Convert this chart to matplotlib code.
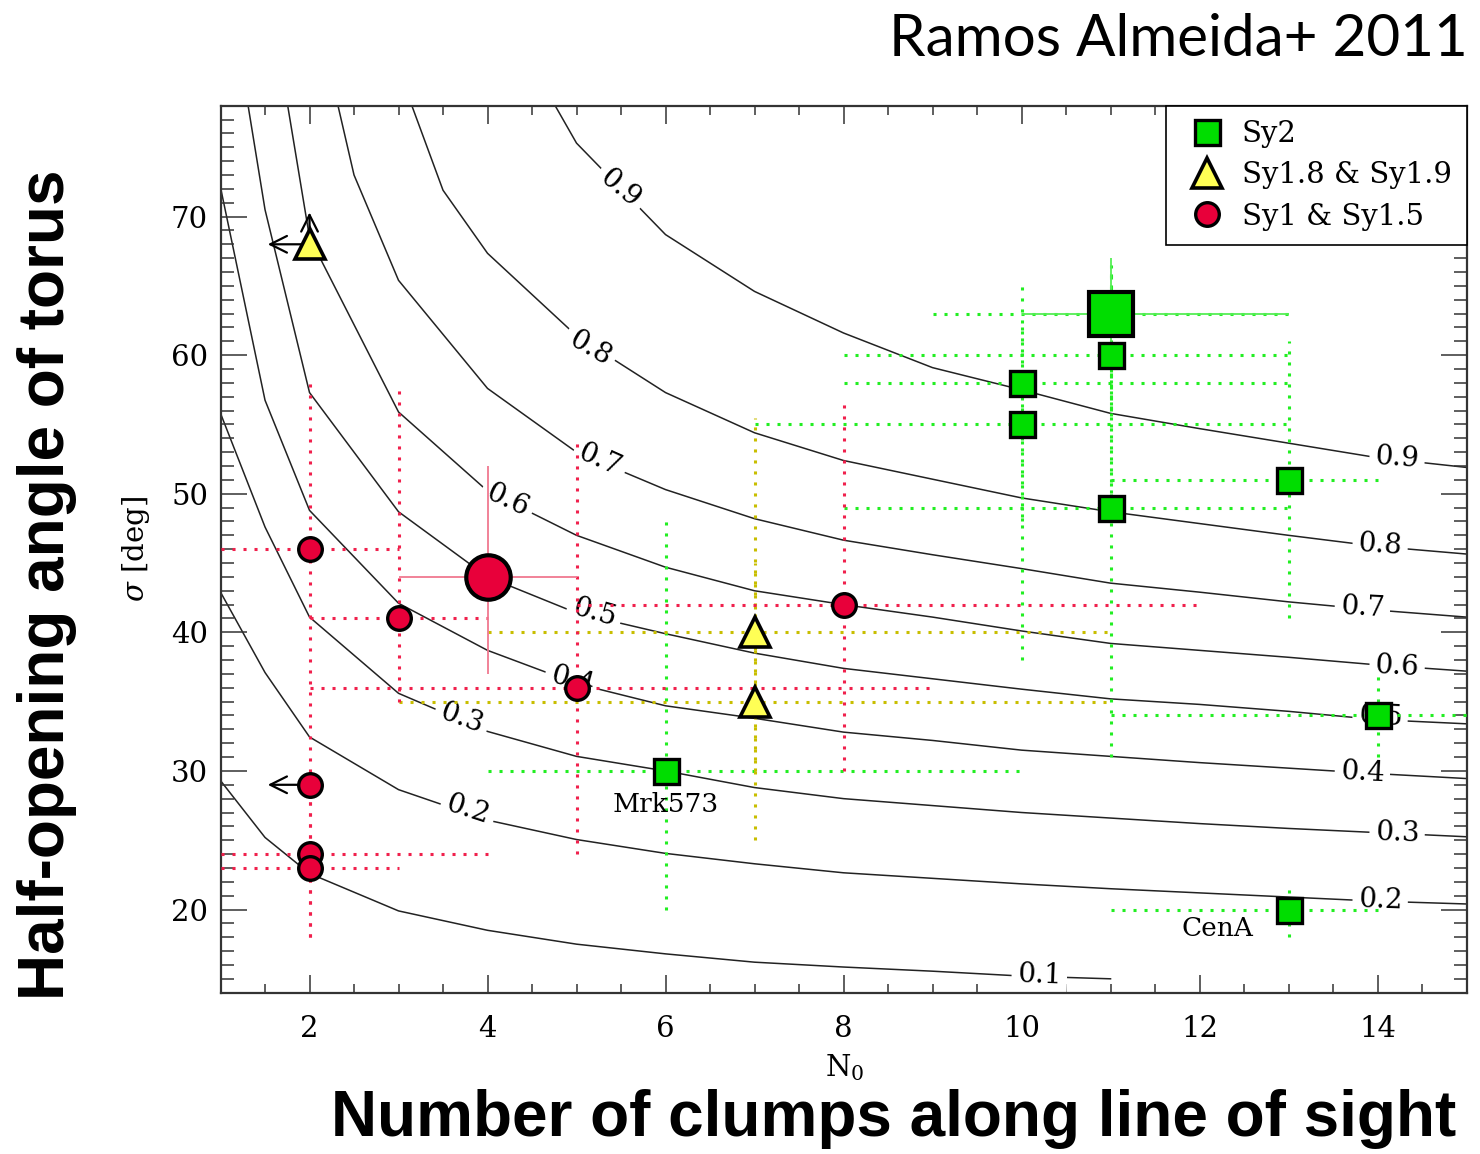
import matplotlib
matplotlib.use("Agg")
import matplotlib.pyplot as plt
from matplotlib.lines import Line2D
from matplotlib.ticker import MultipleLocator

plt.rcParams["font.family"] = ["DejaVu Serif"]
plt.rcParams["mathtext.fontset"] = "dejavuserif"

# covering-factor curves: sigma [deg] read at each N0
c01_n0 = [1, 1.5, 2, 3, 4, 5, 6, 7, 8, 9, 10, 11]
c01_sig = [29.3, 25.2, 22.6, 19.9, 18.5, 17.5, 16.8, 16.2, 15.85, 15.55, 15.2, 15.0]
c02_n0 = [1, 1.5, 2, 3, 4, 5, 6, 7, 8, 9, 10, 11, 12, 13, 14, 15]
c02_sig = [42.9, 37.1, 32.45, 28.65, 26.45, 25.05, 24.05, 23.3, 22.65, 22.25, 21.85, 21.5, 21.2, 20.9, 20.6, 20.4]
c03_n0 = [1, 1.5, 2, 3, 4, 5, 6, 7, 8, 9, 10, 11, 12, 13, 14, 15]
c03_sig = [55.8, 47.6, 41.1, 35.6, 32.85, 31.05, 30.0, 28.8, 28.0, 27.5, 27.0, 26.6, 26.2, 25.85, 25.55, 25.25]
c04_n0 = [1, 1.5, 2, 3, 4, 5, 6, 7, 8, 9, 10, 11, 12, 13, 14, 15]
c04_sig = [72.1, 56.75, 48.8, 42.1, 38.7, 36.3, 34.7, 33.8, 32.8, 32.2, 31.5, 31.05, 30.6, 30.2, 29.8, 29.45]
c05_n0 = [1.31, 1.5, 2, 3, 4, 5, 6, 7, 8, 9, 10, 11, 12, 13, 14, 15]
c05_sig = [78, 70.5, 57.3, 48.7, 44.0, 41.4, 39.9, 38.5, 37.4, 36.65, 35.9, 35.2, 34.8, 34.3, 33.7, 33.4]
c06_n0 = [1.755, 2, 3, 4, 5, 6, 7, 8, 9, 10, 11, 12, 13, 14, 15]
c06_sig = [78, 68.5, 55.9, 50.2, 47.0, 44.7, 43.0, 42.0, 41.1, 40.1, 39.2, 38.7, 38.2, 37.65, 37.2]
c07_n0 = [2.32, 2.5, 3, 4, 5, 6, 7, 8, 9, 10, 11, 12, 13, 14, 15]
c07_sig = [78, 73.0, 65.4, 57.6, 53.0, 50.3, 48.2, 46.65, 45.6, 44.6, 43.55, 42.9, 42.2, 41.6, 41.1]
c08_n0 = [3.15, 3.5, 4, 5, 6, 7, 8, 9, 10, 11, 12, 13, 14, 15]
c08_sig = [78, 71.9, 67.35, 61.4, 57.3, 54.4, 52.4, 51.05, 49.7, 48.7, 47.85, 47.0, 46.2, 45.65]
c09_n0 = [4.76, 5, 6, 7, 8, 9, 10, 11, 12, 13, 14, 15]
c09_sig = [78, 75.3, 68.7, 64.6, 61.6, 59.1, 57.5, 55.8, 54.7, 53.65, 52.6, 51.9]

# label text, position (N0, sigma), rotation
clabel_text = ["0.9", "0.8", "0.7", "0.6", "0.5", "0.4", "0.3", "0.2", "0.1",
               "0.9", "0.8", "0.7", "0.6", "0.5", "0.4", "0.3", "0.2"]
clabel_x = [5.49, 5.15, 5.26, 4.22, 5.2, 4.95, 3.71, 3.78, 10.2,
            14.22, 14.03, 13.83, 14.22, 14.03, 13.83, 14.22, 14.03]
clabel_y = [72.0, 60.5, 52.4, 49.5, 41.4, 36.55, 33.8, 27.2, 15.25,
            52.55, 46.3, 41.75, 37.55, 33.95, 29.9, 25.5, 20.67]
clabel_rot = [-40, -30, -24, -25, -16, -15, -20, -18, -2,
              -4, -4, -3, -3, -3, -3, -2, -2]

# Sy2
sy2_n0 = [10, 10, 11, 11, 13, 14, 6, 13, 11]
sy2_sig = [58, 55, 60, 49, 51, 34, 30, 20, 63]
sy2_n0_lo = [8, 7, 8, 8, 11, 11, 4, 11, 9]
sy2_n0_hi = [13, 13, 13, 13, 14, 16, 10, 14, 13]
sy2_sig_lo = [48, 38, 49, 31, 41, 31, 20, 18, 56]
sy2_sig_hi = [65, 62, 66, 60, 61, 37, 48, 22, 67]
sy2_names = ["", "", "", "", "", "", "Mrk573", "CenA", ""]
sy2_med = (11, 63, 10, 13, 60, 67)  # N0, sigma, N0 lo/hi, sigma lo/hi

# Sy1.8 & Sy1.9
sy18_n0 = [7, 7]
sy18_sig = [40, 35]
sy18_n0_lo = [4, 3]
sy18_n0_hi = [11, 11]
sy18_sig_lo = [30, 25]
sy18_sig_hi = [55.5, 45]
sy18_lim_n0 = [2]
sy18_lim_sig = [68]

# Sy1 & Sy1.5
sy1_n0 = [2, 3, 5, 8, 2, 2]
sy1_sig = [46, 41, 36, 42, 24, 23]
sy1_n0_lo = [1, 2, 2, 5, 1, 1]
sy1_n0_hi = [3, 4, 9, 12, 4, 3]
sy1_sig_lo = [41, 35, 24, 30, 18, 18]
sy1_sig_hi = [58, 58, 54, 57, 41, 30]
sy1_lim_n0 = [2]
sy1_lim_sig = [29]
sy1_med = (4, 44, 3, 5, 37, 52)

GREEN = "#00dd00"
YELLOW = "#ffff55"
RED = "#e8003a"
GREEN_EB = "#22ee22"
YELLOW_EB = "#c8be00"
RED_EB = "#f0204c"
DOT = (0, (1, 2.6))


def asym(v, lo, hi):
    return [[a - b for a, b in zip(v, lo)], [b - a for a, b in zip(v, hi)]]


def dotted_err(ax, x, y, xlo, xhi, ylo, yhi, color):
    eb = ax.errorbar(x, y, xerr=asym(x, xlo, xhi), yerr=asym(y, ylo, yhi),
                     fmt="none", ecolor=color, elinewidth=2.2, capsize=0, zorder=3)
    for col in eb[2]:
        col.set_linestyle(DOT)


fig = plt.figure(figsize=(14.8, 11.54), dpi=100)
ax = fig.add_axes([0.149, 0.1398, 0.8419, 0.7686])

curves = [(c01_n0, c01_sig), (c02_n0, c02_sig), (c03_n0, c03_sig), (c04_n0, c04_sig),
          (c05_n0, c05_sig), (c06_n0, c06_sig), (c07_n0, c07_sig), (c08_n0, c08_sig),
          (c09_n0, c09_sig)]
for n0, sig in curves:
    ax.plot(n0, sig, color="#222222", lw=1.1, zorder=1)

for t, x, y, r in zip(clabel_text, clabel_x, clabel_y, clabel_rot):
    ax.text(x, y, t, rotation=r, ha="center", va="center", fontsize=20, zorder=2,
            rotation_mode="anchor",
            bbox=dict(boxstyle="square,pad=0.2", fc="white", ec="none"))

# error bars
dotted_err(ax, sy2_n0, sy2_sig, sy2_n0_lo, sy2_n0_hi, sy2_sig_lo, sy2_sig_hi, GREEN_EB)
dotted_err(ax, sy18_n0, sy18_sig, sy18_n0_lo, sy18_n0_hi, sy18_sig_lo, sy18_sig_hi, YELLOW_EB)
dotted_err(ax, sy1_n0, sy1_sig, sy1_n0_lo, sy1_n0_hi, sy1_sig_lo, sy1_sig_hi, RED_EB)

for med, col in [(sy2_med, "#55ee55"), (sy1_med, "#f07890")]:
    x, y, xl, xh, yl, yh = med
    ax.errorbar([x], [y], xerr=[[x - xl], [xh - x]], yerr=[[y - yl], [yh - y]],
                fmt="none", ecolor=col, elinewidth=1.3, capsize=0, zorder=3)

# markers
mk = dict(ls="none", mec="black", zorder=5)
ax.plot(sy2_n0, sy2_sig, marker="s", ms=18, mew=2.4, mfc=GREEN, **mk)
ax.plot([sy2_med[0]], [sy2_med[1]], marker="s", ms=31, mew=3, mfc=GREEN, **mk)
ax.plot(sy18_n0, sy18_sig, marker="^", ms=21, mew=2.6, mfc=YELLOW, **mk)
ax.plot(sy18_lim_n0, sy18_lim_sig, marker="^", ms=21, mew=2.6, mfc=YELLOW, **mk)
ax.plot(sy1_n0, sy1_sig, marker="o", ms=17, mew=2.4, mfc=RED, **mk)
ax.plot(sy1_lim_n0, sy1_lim_sig, marker="o", ms=17, mew=2.4, mfc=RED, **mk)
ax.plot([sy1_med[0]], [sy1_med[1]], marker="o", ms=32, mew=3, mfc=RED, **mk)

# limit arrows
arw = dict(arrowstyle="->", color="black", lw=1.6, mutation_scale=30)
for x, y in zip(sy18_lim_n0, sy18_lim_sig):
    ax.annotate("", xy=(x - 0.5, y), xytext=(x, y), arrowprops=arw, zorder=4)
    ax.annotate("", xy=(x, y + 2.5), xytext=(x, y), arrowprops=arw, zorder=4)
for x, y in zip(sy1_lim_n0, sy1_lim_sig):
    ax.annotate("", xy=(x - 0.5, y), xytext=(x, y), arrowprops=arw, zorder=4)

for x, y, name in zip(sy2_n0, sy2_sig, sy2_names):
    if name == "Mrk573":
        ax.text(x, y - 2.4, name, ha="center", va="center", fontsize=19, zorder=6)
    elif name == "CenA":
        ax.text(x - 0.8, y - 1.4, name, ha="center", va="center", fontsize=19, zorder=6)

ax.set_xlim(1, 15)
ax.set_ylim(14, 78)
ax.xaxis.set_major_locator(MultipleLocator(2))
ax.xaxis.set_minor_locator(MultipleLocator(0.5))
ax.yaxis.set_major_locator(MultipleLocator(10))
ax.yaxis.set_minor_locator(MultipleLocator(1))
ax.tick_params(which="both", direction="in", top=True, right=True, colors="#333333",
               labelcolor="black", labelsize=21)
ax.tick_params(axis="x", which="major", length=13, width=1.1, pad=16)
ax.tick_params(axis="x", which="minor", length=6.5, width=1.1)
ax.tick_params(axis="y", which="major", length=19, width=1.1, pad=9)
ax.tick_params(axis="y", which="minor", length=9.5, width=1.1)
for s in ax.spines.values():
    s.set_linewidth(1.6)
    s.set_color("#333333")

ax.text(0.501, -0.085, r"N$_0$", transform=ax.transAxes, ha="center", va="center",
        fontsize=21)
ax.text(-0.068, 0.5, r"$\sigma$ [deg]", transform=ax.transAxes, ha="center",
        va="center", rotation=90, fontsize=21)

handles = [
    Line2D([], [], marker="s", ls="none", ms=18, mew=2.4, mfc=GREEN, mec="black"),
    Line2D([], [], marker="^", ls="none", ms=21, mew=2.6, mfc=YELLOW, mec="black"),
    Line2D([], [], marker="o", ls="none", ms=17, mew=2.4, mfc=RED, mec="black"),
]
leg = ax.legend(handles, ["Sy2", "Sy1.8 & Sy1.9", "Sy1 & Sy1.5"], loc="upper right",
                fontsize=21, frameon=True, fancybox=False, framealpha=1,
                edgecolor="black", borderaxespad=0, handlelength=1.8,
                handletextpad=0.3, labelspacing=0.45, borderpad=0.5)
leg.get_frame().set_linewidth(1.2)
leg.set_zorder(7)

fig.text(0.992, 0.966, "Ramos Almeida+ 2011", ha="right", va="center",
         fontsize=42, family=["Lato", "DejaVu Sans"])
fig.text(0.604, 0.03, "Number of clumps along line of sight", ha="center",
         va="center", fontsize=46, fontweight="bold",
         family=["Liberation Sans", "DejaVu Sans"])
fig.text(0.032, 0.493, "Half-opening angle of torus", ha="center", va="center",
         rotation=90, fontsize=46, fontweight="bold",
         family=["Liberation Sans", "DejaVu Sans"])

fig.savefig("out.png", dpi=100)
